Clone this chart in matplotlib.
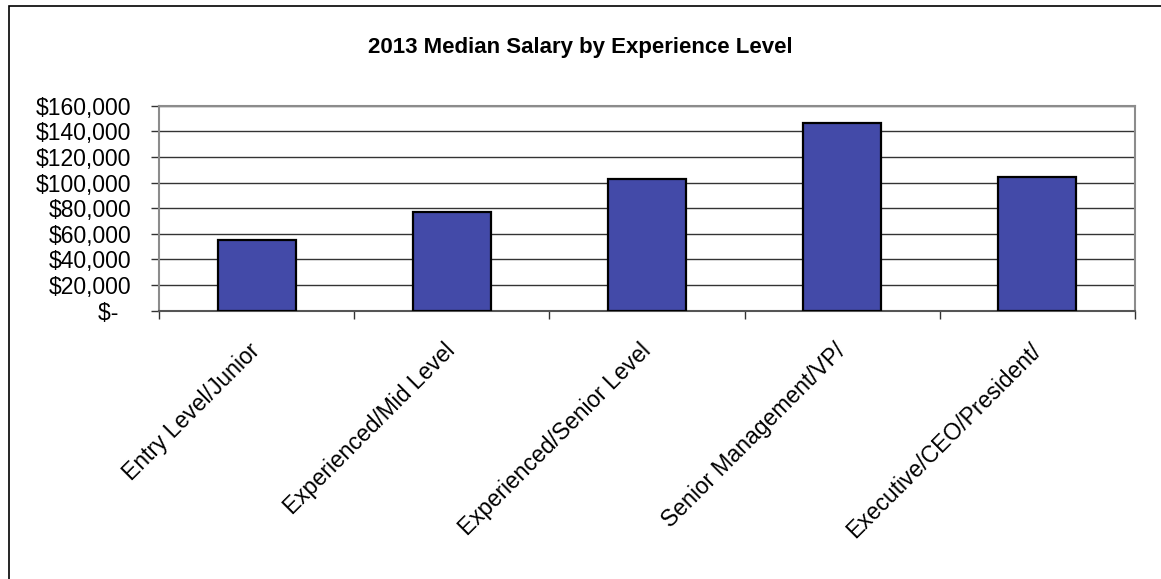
import matplotlib.pyplot as plt
import matplotlib.patches as patches
import matplotlib.transforms as mtransforms
from matplotlib.ticker import FuncFormatter, MultipleLocator

plt.rcParams['font.family'] = ['Liberation Sans', 'DejaVu Sans']

levels = ['Entry Level/Junior', 'Experienced/Mid Level', 'Experienced/Senior Level',
          'Senior Management/VP/', 'Executive/CEO/President/']
median_salary = [55200, 76700, 102800, 146500, 104400]


def dollars(v, pos):
    if v == 0:
        return '$-  '
    return '${:,.0f}'.format(v)


fig = plt.figure(figsize=(11.61, 5.79), dpi=100)
ax = fig.add_axes([0.137, 0.4634, 0.8406, 0.354])

x = list(range(len(levels)))
ax.bar(x, median_salary, width=0.4, color='#434AA8', edgecolor='black', linewidth=1.6, zorder=3)

ax.set_xlim(-0.5, len(levels) - 0.5)
ax.set_ylim(0, 160000)
ax.yaxis.set_major_locator(MultipleLocator(20000))
ax.yaxis.set_major_formatter(FuncFormatter(dollars))
ax.grid(axis='y', color='#333333', linewidth=1.0, zorder=0)

# category labels sit at bar centers, tick marks at category boundaries
ax.set_xticks(x)
ax.set_xticklabels(levels, rotation=45, ha='right', rotation_mode='anchor')
ax.tick_params(axis='x', length=0, pad=24, labelsize=16.5)
ax.set_xticks([i - 0.5 for i in range(len(levels) + 1)], minor=True)
ax.tick_params(axis='x', which='minor', length=6, width=1, color='#333333', direction='out')
ax.tick_params(axis='y', length=6, width=1, color='#333333', pad=14, labelsize=16.5)

# nudge the slanted labels a little left and up
nudge = mtransforms.ScaledTranslation(-8 / 100, 5 / 100, fig.dpi_scale_trans)
for lbl in ax.get_xticklabels():
    lbl.set_transform(lbl.get_transform() + nudge)

for side in ['left', 'right', 'top']:
    ax.spines[side].set_color('#8c8c8c')
    ax.spines[side].set_linewidth(1.5)
ax.spines['bottom'].set_color('#555555')
ax.spines['bottom'].set_linewidth(1.5)

fig.text(0.5, 1 - 47 / 579, '2013 Median Salary by Experience Level',
         ha='center', va='center', fontsize=16, fontweight='bold')

# chart area border (runs off the right and bottom edges)
frame = patches.Rectangle((9 / 1161, -0.2), 1.2, 0.2 + 1 - 6 / 579,
                          transform=fig.transFigure, fill=False,
                          edgecolor='black', linewidth=1.2, clip_on=False)
fig.patches.append(frame)

fig.savefig('out.png', dpi=100)
